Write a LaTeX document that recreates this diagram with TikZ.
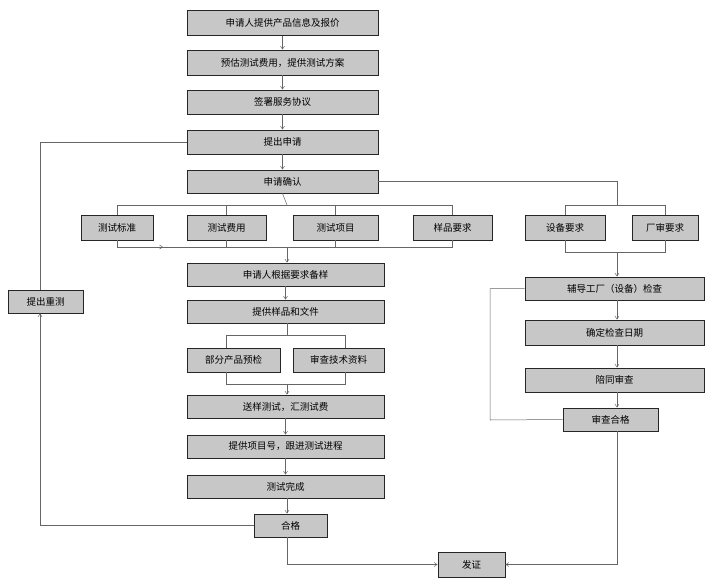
\documentclass[tikz,border=0pt]{standalone}
\usepackage{fontspec}
\setmainfont{Noto Sans CJK SC}
\usetikzlibrary{arrows.meta}
\tikzset{
  box/.style={draw=black!85, fill=black!22, line width=0.9pt, inner sep=0pt, font=\fontsize{9.5}{11}\selectfont},
  line/.style={draw=black!60, line width=0.5pt},
  arr/.style={line, -{Straight Barb[length=3pt,width=4pt]}}
}
\begin{document}
\begin{tikzpicture}[x=1pt,y=-1pt]
\useasboundingbox (0,0) rectangle (714,583);
% main column
\node[box, minimum width=191, minimum height=25] (info) at (282.5,23) {申请人提供产品信息及报价};
\node[box, minimum width=191, minimum height=25] (plan) at (282.5,62.5) {预估测试费用，提供测试方案};
\node[box, minimum width=191, minimum height=24] (sign) at (282.5,102) {签署服务协议};
\node[box, minimum width=191, minimum height=24] (apply) at (282.5,142) {提出申请};
\node[box, minimum width=191, minimum height=23] (confirm) at (282.5,181.5) {申请确认};
% requirements row
\node[box, minimum width=72, minimum height=25] (std) at (117,227.5) {测试标准};
\node[box, minimum width=79, minimum height=25] (fee) at (226.5,227.5) {测试费用};
\node[box, minimum width=85, minimum height=25] (item) at (335.5,227.5) {测试项目};
\node[box, minimum width=79, minimum height=25] (sreq) at (452.5,227.5) {样品要求};
\node[box, minimum width=80, minimum height=25] (dev) at (565,227.5) {设备要求};
\node[box, minimum width=66, minimum height=25] (fac) at (665,227.5) {厂审要求};
% sample preparation
\node[box, minimum width=197, minimum height=23] (prep) at (285.5,274.5) {申请人根据要求备样};
\node[box, minimum width=197, minimum height=23] (provide) at (285.5,311.5) {提供样品和文件};
\node[box, minimum width=93, minimum height=24] (pre) at (233.5,360) {部分产品预检};
\node[box, minimum width=91, minimum height=24] (doc) at (338.5,360) {审查技术资料};
\node[box, minimum width=197, minimum height=23] (send) at (285.5,406.5) {送样测试，汇测试费};
\node[box, minimum width=197, minimum height=23] (track) at (285.5,446.5) {提供项目号，跟进测试进程};
\node[box, minimum width=197, minimum height=23] (done) at (285.5,486.5) {测试完成};
\node[box, minimum width=73, minimum height=23] (pass) at (290.5,525.5) {合格};
\node[box, minimum width=67, minimum height=25] (cert) at (471.5,564.5) {发证};
\node[box, minimum width=75, minimum height=23] (retest) at (45.5,301.5) {提出重测};
% factory audit
\node[box, minimum width=179, minimum height=23] (guide) at (614.5,288.5) {辅导工厂（设备）检查};
\node[box, minimum width=179, minimum height=25] (date) at (614.5,332.5) {确定检查日期};
\node[box, minimum width=179, minimum height=24] (accomp) at (614.5,380) {陪同审查};
\node[box, minimum width=95, minimum height=23] (audit) at (610.5,419.5) {审查合格};
% main flow
\draw[arr] (info) -- (plan);
\draw[arr] (plan) -- (sign);
\draw[arr] (sign) -- (apply);
\draw[arr] (apply) -- (confirm);
\draw[line] (confirm.south) -- (287,205);
\draw[line] (117,215) |- (452.5,205) -- (sreq.north);
\foreach \n/\x in {fee/226.5, item/335.5} \draw[line] (\x,205) -- (\n.north);
\draw[line] (std.south) |- (452.5,247) -- (sreq.south);
\foreach \n/\x in {fee/226.5, item/335.5} \draw[line] (\n.south) -- (\x,247);
\draw[arr] (117,247) -- (163,247);
\draw[arr] (287,247) -- (prep.north -| 287,0);
\draw[arr] (prep) -- (provide);
\draw[line] (provide.south -| 287,0) -- (287,335);
\draw[line] (pre.north -| 226,0) |- (345,335) -- (doc.north -| 345,0);
\draw[line] (pre.south -| 226,0) |- (345,384) -- (doc.south -| 345,0);
\draw[arr] (287,384) -- (send.north -| 287,0);
\draw[arr] (send) -- (track);
\draw[arr] (track) -- (done);
\draw[arr] (done.south -| 287,0) -- (pass.north -| 287,0);
\draw[arr] (pass.south -| 287,0) |- (cert.west);
% retest loop
\draw[line] (apply.west) -| (retest.north -| 40,0);
\draw[arr] (pass.west) -| (retest.south -| 40,0);
% factory branch
\draw[line] (confirm.east) -| (617,205);
\draw[line] (dev.north) |- (665,205) -- (fac.north);
\draw[line] (dev.south) |- (665,252) -- (fac.south);
\draw[arr] (617,252) -- (guide.north -| 617,0);
\draw[arr] (guide.south -| 617,0) -- (date.north -| 617,0);
\draw[arr] (date.south -| 617,0) -- (accomp.north -| 617,0);
\draw[arr] (accomp.south -| 617,0) -- (audit.north -| 617,0);
\draw[line] (guide.west) -| (490,420) -- (audit.west);
\draw[arr] (audit.south -| 617,0) |- (cert.east);
\end{tikzpicture}
\end{document}
